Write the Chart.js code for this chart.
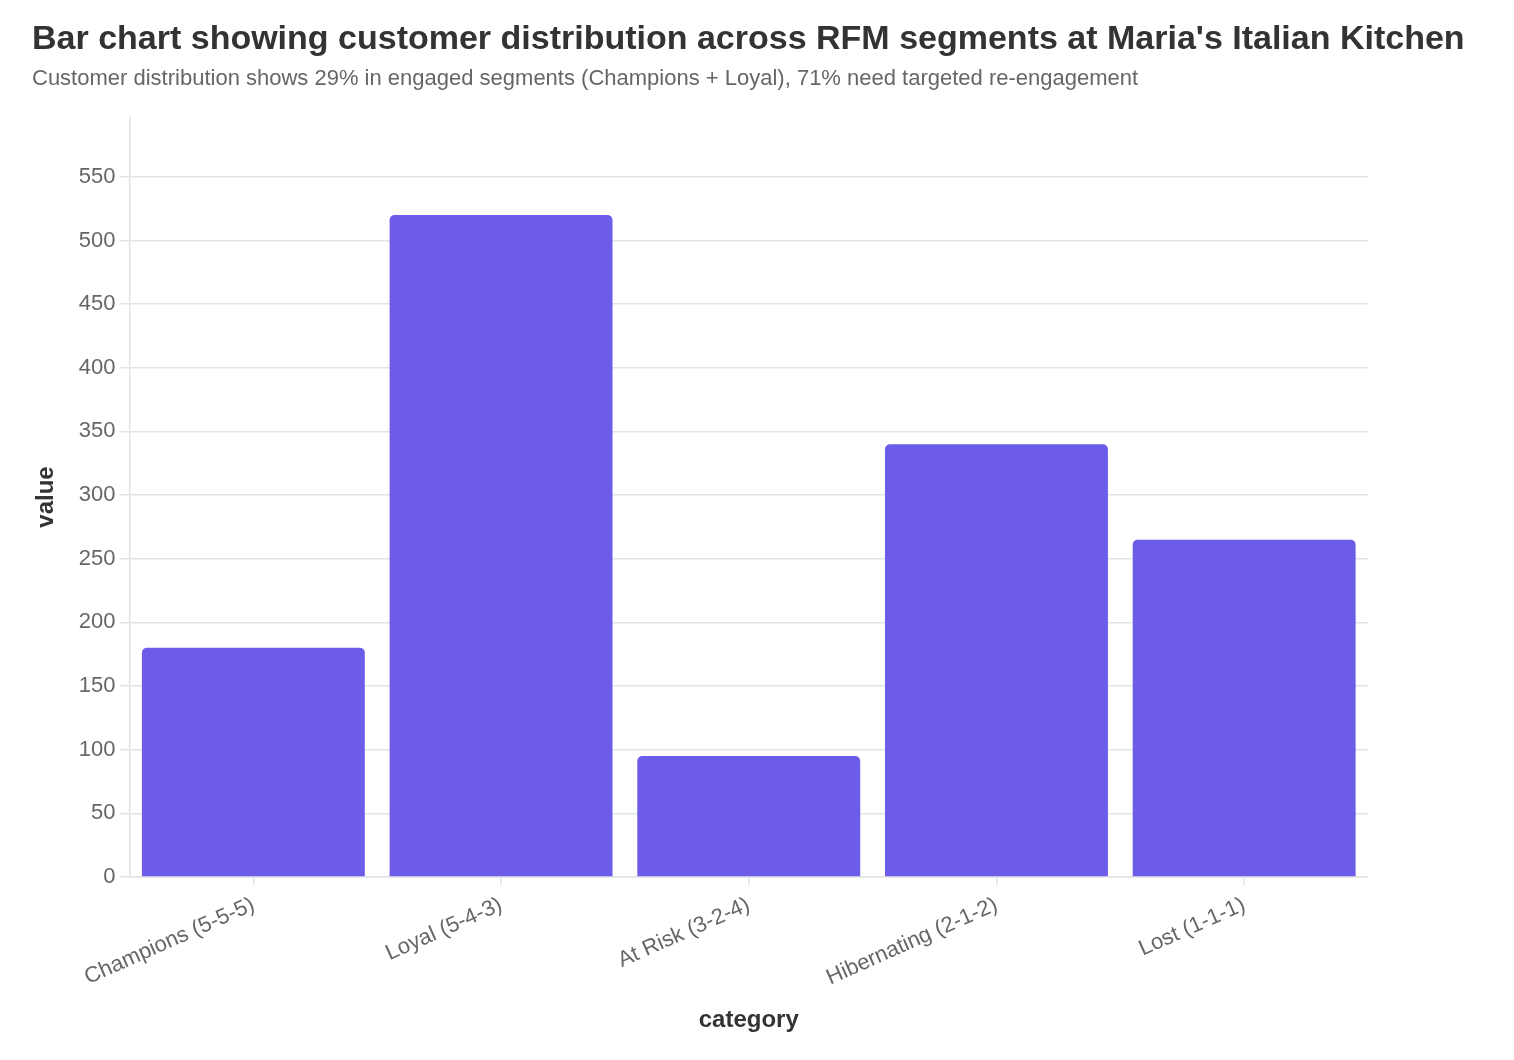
<!DOCTYPE html>
<html>
<head>
<meta charset="utf-8">
<script src="https://cdn.jsdelivr.net/npm/chart.js@4"></script>
<style>
  html, body { margin: 0; padding: 0; background: #ffffff; }
  #wrap { position: relative; width: 1514px; height: 1060px; font-family: "Liberation Sans", Arial, Helvetica, sans-serif; }
  #chartTitle { position: absolute; left: 32px; top: 17px; margin: 0; font-size: 34px; line-height: 40px; font-weight: bold; color: #333333; white-space: nowrap; }
  #chartSubtitle { position: absolute; left: 32px; top: 65px; margin: 0; font-size: 22px; line-height: 26px; color: #666666; white-space: nowrap; }
  #rfmChart { position: absolute; left: 0; top: 0; }
</style>
</head>
<body>
<div id="wrap">
  <canvas id="rfmChart"></canvas>
  <h1 id="chartTitle"></h1>
  <p id="chartSubtitle"></p>
</div>
<script>
'use strict'
var segmentLabels = ['Champions (5-5-5)', 'Loyal (5-4-3)', 'At Risk (3-2-4)', 'Hibernating (2-1-2)', 'Lost (1-1-1)'];
var customerCounts = [180, 520, 95, 340, 265];
var axisMax = 597;
var axisStep = 50;

var chartTitle = 'Bar chart showing customer distribution across RFM segments at Maria\'s Italian Kitchen';
var chartSubtitle = 'Customer distribution shows 29% in engaged segments (Champions + Loyal), 71% need targeted re-engagement';

document.getElementById('chartTitle').textContent = chartTitle;
document.getElementById('chartSubtitle').textContent = chartSubtitle;

Chart.defaults.font.family = '"Liberation Sans", Arial, Helvetica, sans-serif';

var ctx = document.getElementById('rfmChart').getContext('2d');
var rfmConfig = {
    type: 'bar',
    data: {
        labels: segmentLabels,
        datasets: [{
            label: 'value',
            data: customerCounts,
            backgroundColor: '#6c5ce7',
            borderRadius: 5,
            borderSkipped: 'bottom',
            barPercentage: 0.9,
            categoryPercentage: 1.0
        }]
    },
    options: {
        responsive: true,
        maintainAspectRatio: false,
        animation: false,
        layout: {
            padding: { top: 117, left: 32, right: 146, bottom: 25 }
        },
        plugins: {
            legend: { display: false },
            tooltip: { enabled: false }
        },
        scales: {
            y: {
                beginAtZero: true,
                min: 0,
                max: axisMax,
                ticks: {
                    stepSize: axisStep,
                    includeBounds: false,
                    color: '#666666',
                    font: { size: 22 },
                    padding: 4
                },
                grid: {
                    color: '#e2e4e6',
                    lineWidth: 1.5,
                    tickLength: 10
                },
                border: { display: true, color: '#e2e4e6', width: 1.5 },
                title: {
                    display: true,
                    text: 'value',
                    color: '#333333',
                    font: { size: 24, weight: 'bold' },
                    padding: { top: 0, bottom: 14 }
                }
            },
            x: {
                ticks: {
                    color: '#666666',
                    font: { size: 22 },
                    minRotation: 24,
                    maxRotation: 24,
                    padding: 7
                },
                grid: {
                    display: true,
                    offset: false,
                    drawOnChartArea: false,
                    drawTicks: true,
                    tickLength: 8,
                    color: '#e2e4e6',
                    lineWidth: 1.5
                },
                border: { display: true, color: '#e2e4e6', width: 1.5 },
                title: {
                    display: true,
                    text: 'category',
                    color: '#333333',
                    font: { size: 24, weight: 'bold' },
                    padding: { top: 8, bottom: 0 }
                }
            }
        }
    }
};
var rfmChart = new Chart(ctx, rfmConfig);
</script>
</body>
</html>
